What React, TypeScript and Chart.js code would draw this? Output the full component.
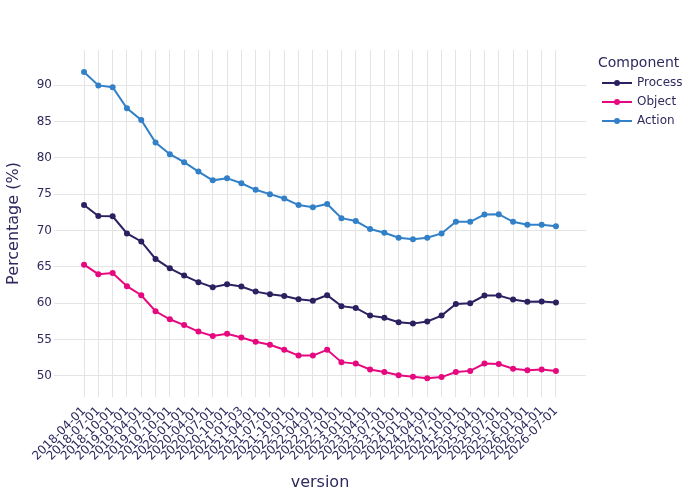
import React, { useEffect, useRef } from "react";
import Chart from "chart.js/auto";

const versions = [
  "2018-04-01", "2018-07-01", "2018-10-01", "2019-01-01", "2019-04-01", "2019-07-01",
  "2019-10-01", "2020-01-01", "2020-04-01", "2020-07-01", "2020-10-01", "2021-01-03",
  "2021-04-01", "2021-07-01", "2021-10-01", "2022-01-01", "2022-04-01", "2022-07-01",
  "2022-10-01", "2023-01-01", "2023-04-01", "2023-07-01", "2023-10-01", "2024-01-01",
  "2024-04-01", "2024-07-01", "2024-10-01", "2025-01-01", "2025-04-01", "2025-07-01",
  "2025-10-01", "2026-01-01", "2026-04-01", "2026-07-01",
];

const processValues = [
  73.5, 72.0, 71.95, 69.6, 68.5, 66.1, 64.8, 63.8, 62.9, 62.2, 62.6, 62.3, 61.6, 61.25,
  61.0, 60.55, 60.35, 61.1, 59.6, 59.35, 58.3, 58.0, 57.4, 57.2, 57.5, 58.3, 59.9, 60.0,
  61.05, 61.05, 60.5, 60.2, 60.25, 60.1,
];

const objectValues = [
  65.3, 64.0, 64.15, 62.35, 61.1, 58.9, 57.8, 57.0, 56.1, 55.5, 55.8, 55.3, 54.7, 54.3,
  53.6, 52.8, 52.8, 53.6, 51.9, 51.7, 50.9, 50.55, 50.1, 49.9, 49.7, 49.85, 50.55, 50.7,
  51.7, 51.65, 51.0, 50.8, 50.9, 50.7,
];

const actionValues = [
  91.8, 89.95, 89.7, 86.8, 85.2, 82.1, 80.5, 79.4, 78.1, 76.9, 77.2, 76.5, 75.6, 75.0,
  74.4, 73.5, 73.2, 73.65, 71.7, 71.3, 70.2, 69.7, 69.0, 68.8, 69.0, 69.6, 71.2, 71.2,
  72.2, 72.25, 71.2, 70.8, 70.8, 70.6,
];

const seriesNames = ["Process", "Object", "Action"];
const seriesColors = ["#2b2160", "#e6087f", "#3280c7"];

const textColor = "#2e2a5e";
const gridColor = "#e4e4e4";
const fontFamily = "'DejaVu Sans', sans-serif";

// legend drawn on the right, plotly style
const legendPlugin = {
  id: "sideLegend",
  afterDraw(chart: any) {
    const ctx = chart.ctx;
    ctx.save();
    ctx.fillStyle = textColor;
    ctx.textBaseline = "middle";
    ctx.textAlign = "left";
    ctx.font = `14px ${fontFamily}`;
    ctx.fillText("Component", 598, 63);
    ctx.font = `12px ${fontFamily}`;
    seriesNames.forEach((name, i) => {
      const y = 83 + i * 19;
      ctx.strokeStyle = seriesColors[i];
      ctx.lineWidth = 2;
      ctx.beginPath();
      ctx.moveTo(602, y);
      ctx.lineTo(632, y);
      ctx.stroke();
      ctx.fillStyle = seriesColors[i];
      ctx.beginPath();
      ctx.arc(617, y, 3, 0, Math.PI * 2);
      ctx.fill();
      ctx.fillStyle = textColor;
      ctx.fillText(name, 637, y);
    });
    ctx.restore();
  },
};

const App: React.FC = () => {
  const chartRef = useRef<HTMLCanvasElement>(null);
  const chartInstanceRef = useRef<Chart | null>(null);

  useEffect(() => {
    if (!chartRef.current) return;
    const ctx = chartRef.current.getContext("2d");
    if (chartInstanceRef.current) chartInstanceRef.current.destroy();

    const allValues = [processValues, objectValues, actionValues];

    chartInstanceRef.current = new Chart(ctx!, {
      type: "line",
      data: {
        datasets: allValues.map((vals, i) => ({
          label: seriesNames[i],
          data: vals.map((v, idx) => ({ x: idx, y: v })),
          borderColor: seriesColors[i],
          backgroundColor: seriesColors[i],
          borderWidth: 2,
          pointRadius: 3,
          pointBorderWidth: 0,
          tension: 0,
        })),
      },
      options: {
        animation: false,
        responsive: true,
        maintainAspectRatio: false,
        layout: { padding: { top: 50, right: 114, bottom: 0, left: 0 } },
        plugins: {
          legend: { display: false },
          tooltip: { enabled: false },
        },
        scales: {
          x: {
            type: "linear",
            min: -2.1,
            max: 35.1,
            afterBuildTicks: (scale: any) => {
              scale.ticks = versions.map((_, i) => ({ value: i }));
            },
            afterFit: (scale: any) => {
              scale.height = 103;
            },
            ticks: {
              autoSkip: false,
              includeBounds: false,
              minRotation: 45,
              maxRotation: 45,
              padding: 7,
              color: textColor,
              font: { family: fontFamily, size: 12 },
              callback: (v: any) => versions[v] ?? "",
            },
            grid: { color: gridColor, drawTicks: false },
            border: { display: false },
            title: {
              display: true,
              text: "version",
              color: textColor,
              font: { family: fontFamily, size: 16 },
              padding: { top: 0, bottom: 8 },
            },
          },
          y: {
            min: 47.11,
            max: 94.82,
            afterFit: (scale: any) => {
              scale.width = 54;
            },
            ticks: {
              stepSize: 5,
              includeBounds: false,
              padding: 2,
              color: textColor,
              font: { family: fontFamily, size: 12 },
            },
            grid: { color: gridColor, drawTicks: false },
            border: { display: false },
            title: {
              display: true,
              text: "Percentage (%)",
              color: textColor,
              font: { family: fontFamily, size: 16 },
              padding: { top: 4, bottom: 0 },
            },
          },
        },
      },
      plugins: [legendPlugin],
    });

    return () => {
      if (chartInstanceRef.current) {
        chartInstanceRef.current.destroy();
        chartInstanceRef.current = null;
      }
    };
  }, []);

  return (
    <div style={{ position: "absolute", left: 0, top: 0, width: "700px", height: "500px", background: "#fff" }}>
      <canvas ref={chartRef} />
    </div>
  );
};

export default App;
